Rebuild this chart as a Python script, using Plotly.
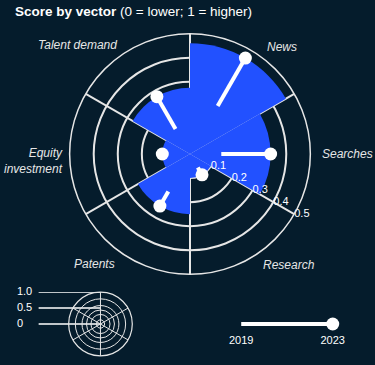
import plotly.graph_objects as go

# ---- data ----
categories = ["News", "Searches", "Research", "Patents", "Equity<br>investment", "Talent demand"]
angles = [60, 0, -60, -120, 180, 120]
score_2019 = [0.23, 0.13, 0.065, 0.18, 0.10, 0.12]
score_2023 = [0.46, 0.335, 0.10, 0.25, 0.115, 0.275]
ring_ticks = [0.1, 0.2, 0.3, 0.4, 0.5]
ring_labels = ["0.1", "0.2", "0.3", "0.4", "0.5"]
sector_edges = [30, 90, 150, 210, 270, 330]
years = [2019, 2023]
legend_ticks = [0, 0.5, 1.0]
legend_labels = ["0", "0.5", "1.0"]
legend_rings = [0.13, 0.3, 0.44, 0.58, 0.79, 1.0]

BG = "#051c2c"
BLUE = "#2251ff"
GRID = "#e6e6e6"
FONT = "Liberation Sans, Arial, sans-serif"

W, H = 375, 365

# label placement (pixels from top-left): x, y, xanchor
label_pos = {
    "News": (283, 47, "center"),
    "Searches": (321, 154, "left"),
    "Research": (290, 265, "center"),
    "Patents": (94, 264, "center"),
    "Equity<br>investment": (64, 161, "right"),
    "Talent demand": (77, 45, "center"),
}

fig = go.Figure()

# blue bars (2023)
fig.add_trace(go.Barpolar(
    r=score_2023, theta=angles, width=[60] * len(angles),
    marker=dict(color=BLUE, line=dict(width=0)),
    subplot="polar", hoverinfo="skip",
))

# lollipop lines 2019 -> 2023
lr, lt = [], []
for a, s0, s1 in zip(angles, score_2019, score_2023):
    lr += [s0, s1, None]
    lt += [a, a, None]
fig.add_trace(go.Scatterpolar(
    r=lr, theta=lt, mode="lines", line=dict(color="white", width=4),
    subplot="polar", hoverinfo="skip", connectgaps=False,
))
fig.add_trace(go.Scatterpolar(
    r=score_2023, theta=angles, mode="markers",
    marker=dict(color="white", size=13),
    subplot="polar", hoverinfo="skip",
))

# radial tick labels along the -30 degree spoke
fig.add_trace(go.Scatterpolar(
    r=ring_ticks, theta=[-30] * len(ring_ticks), mode="text", text=ring_labels,
    textposition="middle right", textfont=dict(color="white", size=11, family=FONT),
    subplot="polar", hoverinfo="skip", cliponaxis=False,
))

# legend icon
fig.add_trace(go.Scatterpolar(
    r=[0], theta=[0], mode="markers", marker=dict(opacity=0),
    subplot="polar3", hoverinfo="skip",
))

# legend leader lines + labels
for v, lab in zip(legend_ticks, legend_labels):
    fig.add_trace(go.Scatter(
        x=[0.26, 1.0], y=[v, v], mode="lines", line=dict(color="white", width=1.5),
        xaxis="x3", yaxis="y3", hoverinfo="skip", cliponaxis=False,
    ))
fig.add_trace(go.Scatter(
    x=[0] * len(legend_ticks), y=legend_ticks, mode="text", text=legend_labels,
    textposition="middle right", textfont=dict(color="white", size=11, family=FONT),
    xaxis="x3", yaxis="y3", hoverinfo="skip", cliponaxis=False,
))

# year slider
fig.add_trace(go.Scatter(
    x=years, y=[0, 0], mode="lines", line=dict(color="white", width=4),
    xaxis="x2", yaxis="y2", hoverinfo="skip", cliponaxis=False,
))
fig.add_trace(go.Scatter(
    x=[years[-1]], y=[0], mode="markers", marker=dict(color="white", size=13),
    xaxis="x2", yaxis="y2", hoverinfo="skip", cliponaxis=False,
))

main_dom = dict(x=[69 / W, 311 / W], y=[90 / H, 332 / H])

annotations = [dict(
    xref="paper", yref="paper", x=12 / W, y=1 - 2 / H, xanchor="left", yanchor="top",
    showarrow=False, align="left",
    text="<b>Score by vector</b> (0 = lower; 1 = higher)",
    font=dict(size=13.5, color="white", family=FONT),
)]
for cat in categories:
    px, py, xa = label_pos[cat]
    annotations.append(dict(
        xref="paper", yref="paper", x=px / W, y=1 - py / H, xanchor=xa, yanchor="middle",
        showarrow=False, align=xa if xa != "center" else "center", text=cat,
        font=dict(size=12, color="#e6e6e6", family=FONT, style="italic"),
    ))

fig.update_layout(
    width=W, height=H,
    margin=dict(l=0, r=0, t=0, b=0),
    paper_bgcolor=BG, plot_bgcolor=BG,
    showlegend=False,
    font=dict(family=FONT, color="white"),
    polar=dict(
        domain=main_dom, bgcolor="rgba(0,0,0,0)",
        radialaxis=dict(range=[0, 0.5], tickvals=ring_ticks, showticklabels=False,
                        showline=False, ticks="", gridcolor=GRID, gridwidth=1.5,
                        angle=-30),
        angularaxis=dict(tickmode="array", tickvals=sector_edges, showticklabels=False,
                         ticks="", gridcolor=GRID, gridwidth=1.5, linecolor=GRID,
                         linewidth=1.5, direction="counterclockwise", rotation=0),
    ),
    polar3=dict(
        domain=dict(x=[68 / W, 132 / W], y=[9 / H, 73 / H]), bgcolor="rgba(0,0,0,0)",
        radialaxis=dict(range=[0, 1], tickvals=legend_rings, showticklabels=False,
                        showline=False, ticks="", gridcolor=GRID, gridwidth=1.2),
        angularaxis=dict(tickmode="array", tickvals=sector_edges, showticklabels=False,
                         ticks="", gridcolor=GRID, gridwidth=1.2, linecolor=GRID,
                         linewidth=1.2, direction="counterclockwise", rotation=0),
    ),
    xaxis2=dict(domain=[230 / W, 345 / W], range=[2018.5, 2023.5], tickvals=years,
                showgrid=False, zeroline=False, showline=False, ticks="",
                tickfont=dict(color="white", size=11), anchor="y2"),
    yaxis2=dict(domain=[33 / H, 49 / H], range=[-1, 1], visible=False, anchor="x2"),
    xaxis3=dict(domain=[16 / W, 100 / W], range=[0, 1], visible=False, anchor="y3"),
    yaxis3=dict(domain=[9 / H, 73 / H], range=[-1, 1], visible=False, anchor="x3"),
    xaxis=dict(visible=False), yaxis=dict(visible=False),
    annotations=annotations,
)

fig.write_html("out.html")
